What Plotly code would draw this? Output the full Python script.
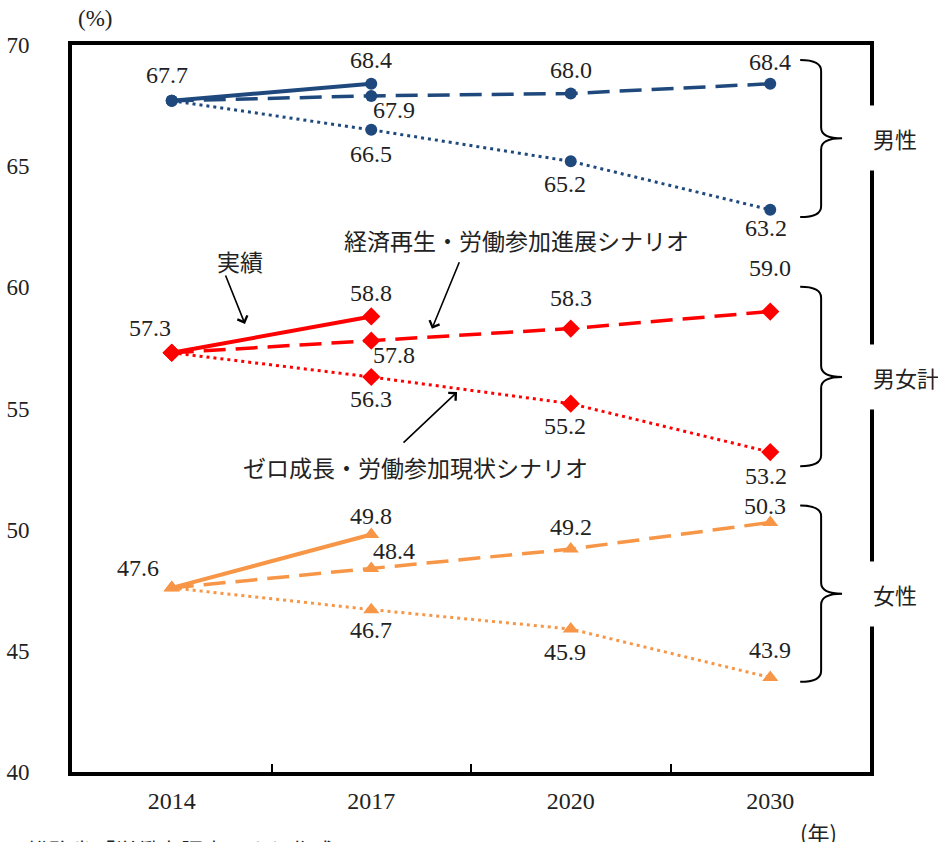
import plotly.graph_objects as go

# ---- data -------------------------------------------------------------
years = ["2014", "2017", "2020", "2030"]

male_actual = [67.7, 68.4]
male_growth = [67.7, 67.9, 68.0, 68.4]
male_zero = [67.7, 66.5, 65.2, 63.2]

total_actual = [57.3, 58.8]
total_growth = [57.3, 57.8, 58.3, 59.0]
total_zero = [57.3, 56.3, 55.2, 53.2]

female_actual = [47.6, 49.8]
female_growth = [47.6, 48.4, 49.2, 50.3]
female_zero = [47.6, 46.7, 45.9, 43.9]

group_names = ["男性", "男女計", "女性"]

# ---- styling ------------------------------------------------------------
NUM_FONT = "Liberation Serif, DejaVu Serif, serif"
JP_FONT = "Noto Sans CJK JP"
TXT = "#222222"

groups = [
    dict(actual=male_actual, growth=male_growth, zero=male_zero,
         color="#1F497D", symbol="circle", msize=12,
         # pixel offsets of the value labels (xshift, yshift)
         off_actual=[(-5, 26), (0, 24)],
         off_growth=[None, (23, -14), (0, 23), (0, 22)],
         off_zero=[None, (0, -24), (-6, -23), (-4, -18)]),
    dict(actual=total_actual, growth=total_growth, zero=total_zero,
         color="#FF0000", symbol="diamond", msize=14,
         off_actual=[(-22, 25), (0, 23)],
         off_growth=[None, (23, -14), (0, 31), (0, 44)],
         off_zero=[None, (0, -22), (-6, -22), (-4, -24)]),
    dict(actual=female_actual, growth=female_growth, zero=female_zero,
         color="#F79646", symbol="triangle-up", msize=14,
         off_actual=[(-34, 20), (0, 19)],
         off_growth=[None, (23, 17), (0, 22), (-5, 16)],
         off_zero=[None, (0, -20), (-6, -23), (0, 27)]),
]

xs = list(range(len(years)))

fig = go.Figure()
annotations = []

for g in groups:
    col = g["color"]
    # zero-growth scenario (dotted)
    fig.add_trace(go.Scatter(
        x=xs[:len(g["zero"])], y=g["zero"], mode="lines+markers",
        line=dict(color=col, width=3, dash="3px,4px"),
        marker=dict(symbol=g["symbol"], size=g["msize"], color=col),
        showlegend=False, hoverinfo="skip"))
    # economic revitalisation scenario (dashed)
    fig.add_trace(go.Scatter(
        x=xs[:len(g["growth"])], y=g["growth"], mode="lines+markers",
        line=dict(color=col, width=3.5, dash="22px,10px"),
        marker=dict(symbol=g["symbol"], size=g["msize"], color=col),
        showlegend=False, hoverinfo="skip"))
    # actual values (solid)
    fig.add_trace(go.Scatter(
        x=xs[:len(g["actual"])], y=g["actual"], mode="lines+markers",
        line=dict(color=col, width=4),
        marker=dict(symbol=g["symbol"], size=g["msize"], color=col),
        showlegend=False, hoverinfo="skip"))

    for key in ("actual", "growth", "zero"):
        for i, v in enumerate(g[key]):
            off = g["off_" + key][i]
            if off is None:
                continue
            annotations.append(dict(
                x=xs[i], y=v, xref="x", yref="y", text=f"{v:.1f}",
                showarrow=False, xshift=off[0], yshift=off[1],
                font=dict(family=NUM_FONT, size=24, color=TXT)))

# ---- scenario captions with arrows ---------------------------------------
captions = [
    # text, text x, text y, arrow head x, arrow head y, tail offset ax, ay
    ("実績", 0.34, 61.1, 0.367, 58.49, -20, -50),
    ("経済再生・労働参加進展シナリオ", 1.73, 61.97, 1.304, 58.29, 28, -68),
    ("ゼロ成長・労働参加現状シナリオ", 1.22, 52.58, 1.43, 55.68, -55, 52),
]
for text, tx, ty, hx, hy, ax, ay in captions:
    annotations.append(dict(
        x=tx, y=ty, xref="x", yref="y", text=text, showarrow=False,
        font=dict(family=JP_FONT, size=23, color=TXT)))
    annotations.append(dict(
        x=hx, y=hy, xref="x", yref="y", text="", showarrow=True,
        ax=ax, ay=ay, axref="pixel", ayref="pixel",
        arrowhead=4, arrowsize=1.3, arrowwidth=1.6, arrowcolor="#000000"))

# ---- braces and group labels on the right ------------------------------
braces = [
    # top, bottom, tip (data units)
    (69.38, 62.9, 66.15),
    (60.02, 52.62, 56.3),
    (51.0, 43.72, 47.36),
]
x_start, x_vert, x_tip = 3.15, 3.255, 3.36
dy = 0.45
shapes = []
for (top, bot, mid), name in zip(braces, group_names):
    path = (
        f"M {x_start},{top} Q {x_vert},{top} {x_vert},{top - dy} "
        f"L {x_vert},{mid + dy} Q {x_vert},{mid} {x_tip},{mid} "
        f"Q {x_vert},{mid} {x_vert},{mid - dy} "
        f"L {x_vert},{bot + dy} Q {x_vert},{bot} {x_start},{bot}"
    )
    shapes.append(dict(type="path", path=path, xref="x", yref="y",
                       line=dict(color="#000000", width=2)))
    annotations.append(dict(
        x=1.0, y=mid, xref="paper", yref="y", xanchor="left", xshift=-14,
        text=name, showarrow=False, bgcolor="#FFFFFF", borderpad=16,
        font=dict(family=JP_FONT, size=22, color=TXT)))

# ---- axis unit labels and source note -----------------------------------
annotations += [
    dict(x=0.029, y=1.037, xref="paper", yref="paper", xanchor="center",
         yanchor="middle", text="(%)", showarrow=False,
         font=dict(family=NUM_FONT, size=23, color=TXT)),
    dict(x=0.935, y=-0.0825, xref="paper", yref="paper", xanchor="center",
         yanchor="middle", text="(年)", showarrow=False,
         font=dict(family=JP_FONT, size=22, color=TXT)),
    dict(x=-0.059, y=-0.081, xref="paper", yref="paper", xanchor="left",
         yanchor="top", text="総務省「労働力調査」より作成", showarrow=False,
         font=dict(family=JP_FONT, size=22, color=TXT)),
]

fig.update_layout(
    width=938, height=842,
    margin=dict(l=72, r=68, t=45, b=70),
    paper_bgcolor="#FFFFFF", plot_bgcolor="#FFFFFF",
    showlegend=False,
    shapes=shapes, annotations=annotations,
    xaxis=dict(
        range=[-0.5, 3.5], tickmode="array", tickvals=xs, ticktext=years,
        ticks="", showgrid=False, zeroline=False, automargin=False,
        showline=True, linecolor="#000000", linewidth=4, mirror=True,
        tickfont=dict(family=NUM_FONT, size=24, color=TXT),
        ticklabelstandoff=4,
        minor=dict(tickmode="array", tickvals=[0.5, 1.5, 2.5], ticks="inside",
                   ticklen=8, tickwidth=2, tickcolor="#000000", showgrid=False),
    ),
    yaxis=dict(
        range=[40, 70], dtick=5, tick0=40, ticks="", showgrid=False,
        zeroline=False, automargin=False, showline=True, linecolor="#000000",
        linewidth=4, mirror=True,
        tickfont=dict(family=NUM_FONT, size=23, color=TXT),
        ticklabelstandoff=34,
    ),
)

fig.write_html("out.html")
